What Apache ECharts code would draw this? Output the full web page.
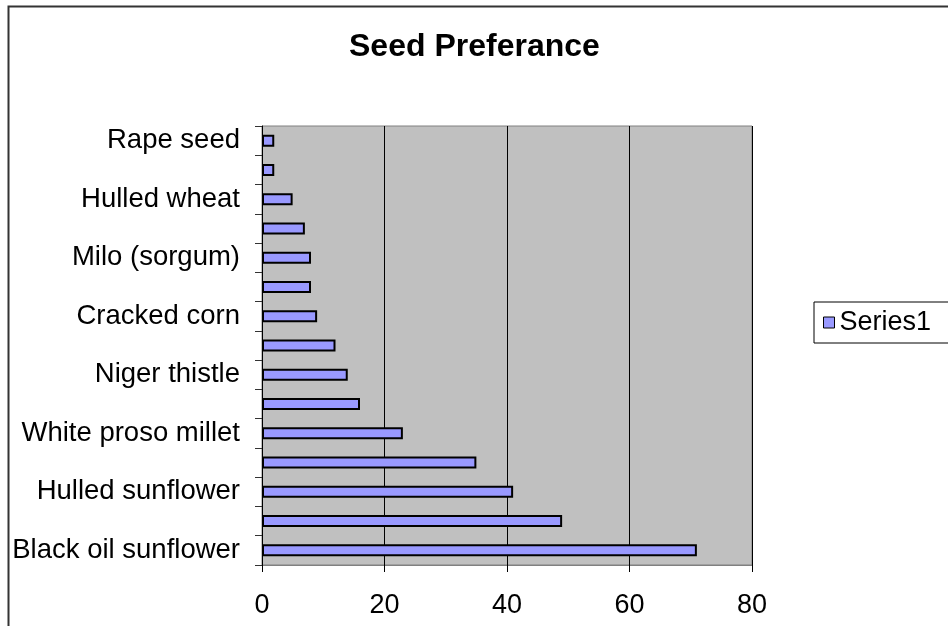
<!DOCTYPE html>
<html>
<head>
<meta charset="utf-8">
<title>Seed Preferance</title>
<script src="https://cdn.jsdelivr.net/npm/echarts@6/dist/echarts.min.js"></script>
<style>
  html, body { margin: 0; padding: 0; background: #fff; }
  #chart { width: 948px; height: 626px; }
</style>
</head>
<body>
<div id="chart"></div>
<script>
  // categories from bottom to top; every other name is hidden on the axis
  var seeds = [
    'Black oil sunflower', 'Striped sunflower', 'Hulled sunflower', 'Peanut kernels',
    'White proso millet', 'Red proso millet', 'Niger thistle', 'German millet',
    'Cracked corn', 'Canary seed', 'Milo (sorgum)', 'Oats',
    'Hulled wheat', 'Buckwheat', 'Rape seed'
  ];
  var series1 = [71, 49, 41, 35, 23, 16, 14, 12, 9, 8, 8, 7, 5, 2, 2];
  var xTicks = [0, 20, 40, 60, 80];

  var font = '"Liberation Sans", Arial, Helvetica, sans-serif';

  var option = {
    animation: false,
    backgroundColor: '#fff',
    textStyle: { fontFamily: font },
    title: {
      text: 'Seed Preferance',
      left: 344,
      top: 26,
      textStyle: { fontFamily: font, fontSize: 32, fontWeight: 'bold', color: '#000' }
    },
    legend: {
      data: ['Series1'],
      left: 814,
      top: 302,
      orient: 'vertical',
      icon: 'rect',
      itemWidth: 11,
      itemHeight: 11,
      itemGap: 5,
      padding: [7, 40, 7, 9],
      borderColor: '#000',
      borderWidth: 1,
      itemStyle: { color: '#9999FF', borderColor: '#000', borderWidth: 1 },
      textStyle: { fontFamily: font, fontSize: 27, color: '#000' }
    },
    grid: {
      left: 262,
      right: 196,
      top: 126,
      bottom: 61,
      show: true,
      backgroundColor: '#C0C0C0',
      borderColor: '#808080',
      borderWidth: 1
    },
    xAxis: {
      type: 'value',
      min: xTicks[0],
      max: xTicks[xTicks.length - 1],
      interval: 20,
      axisLine: { show: true, lineStyle: { color: '#808080', width: 1 } },
      axisTick: { show: true, length: 7, lineStyle: { color: '#000' } },
      axisLabel: { fontFamily: font, fontSize: 27, color: '#000', margin: 27 },
      splitLine: { show: true, lineStyle: { color: '#000', width: 1 } }
    },
    yAxis: {
      type: 'category',
      data: seeds,
      axisLine: { show: true, lineStyle: { color: '#000', width: 1 } },
      axisTick: { show: true, length: 7, interval: 0, lineStyle: { color: '#333' } },
      axisLabel: { interval: 1, fontFamily: font, fontSize: 27.5, color: '#000', margin: 22 },
      splitLine: { show: false }
    },
    series: [{
      name: 'Series1',
      type: 'bar',
      data: series1,
      barWidth: 12,
      itemStyle: { color: '#9999FF', borderColor: '#000', borderWidth: 2 }
    }],
    graphic: [{
      type: 'rect',
      left: 6,
      top: 4,
      shape: { width: 1000, height: 1000 },
      style: { fill: 'none', stroke: '#333', lineWidth: 2 },
      silent: true
    }]
  };

  var myChart = echarts.init(document.getElementById('chart'));
  myChart.setOption(option);
</script>
</body>
</html>
